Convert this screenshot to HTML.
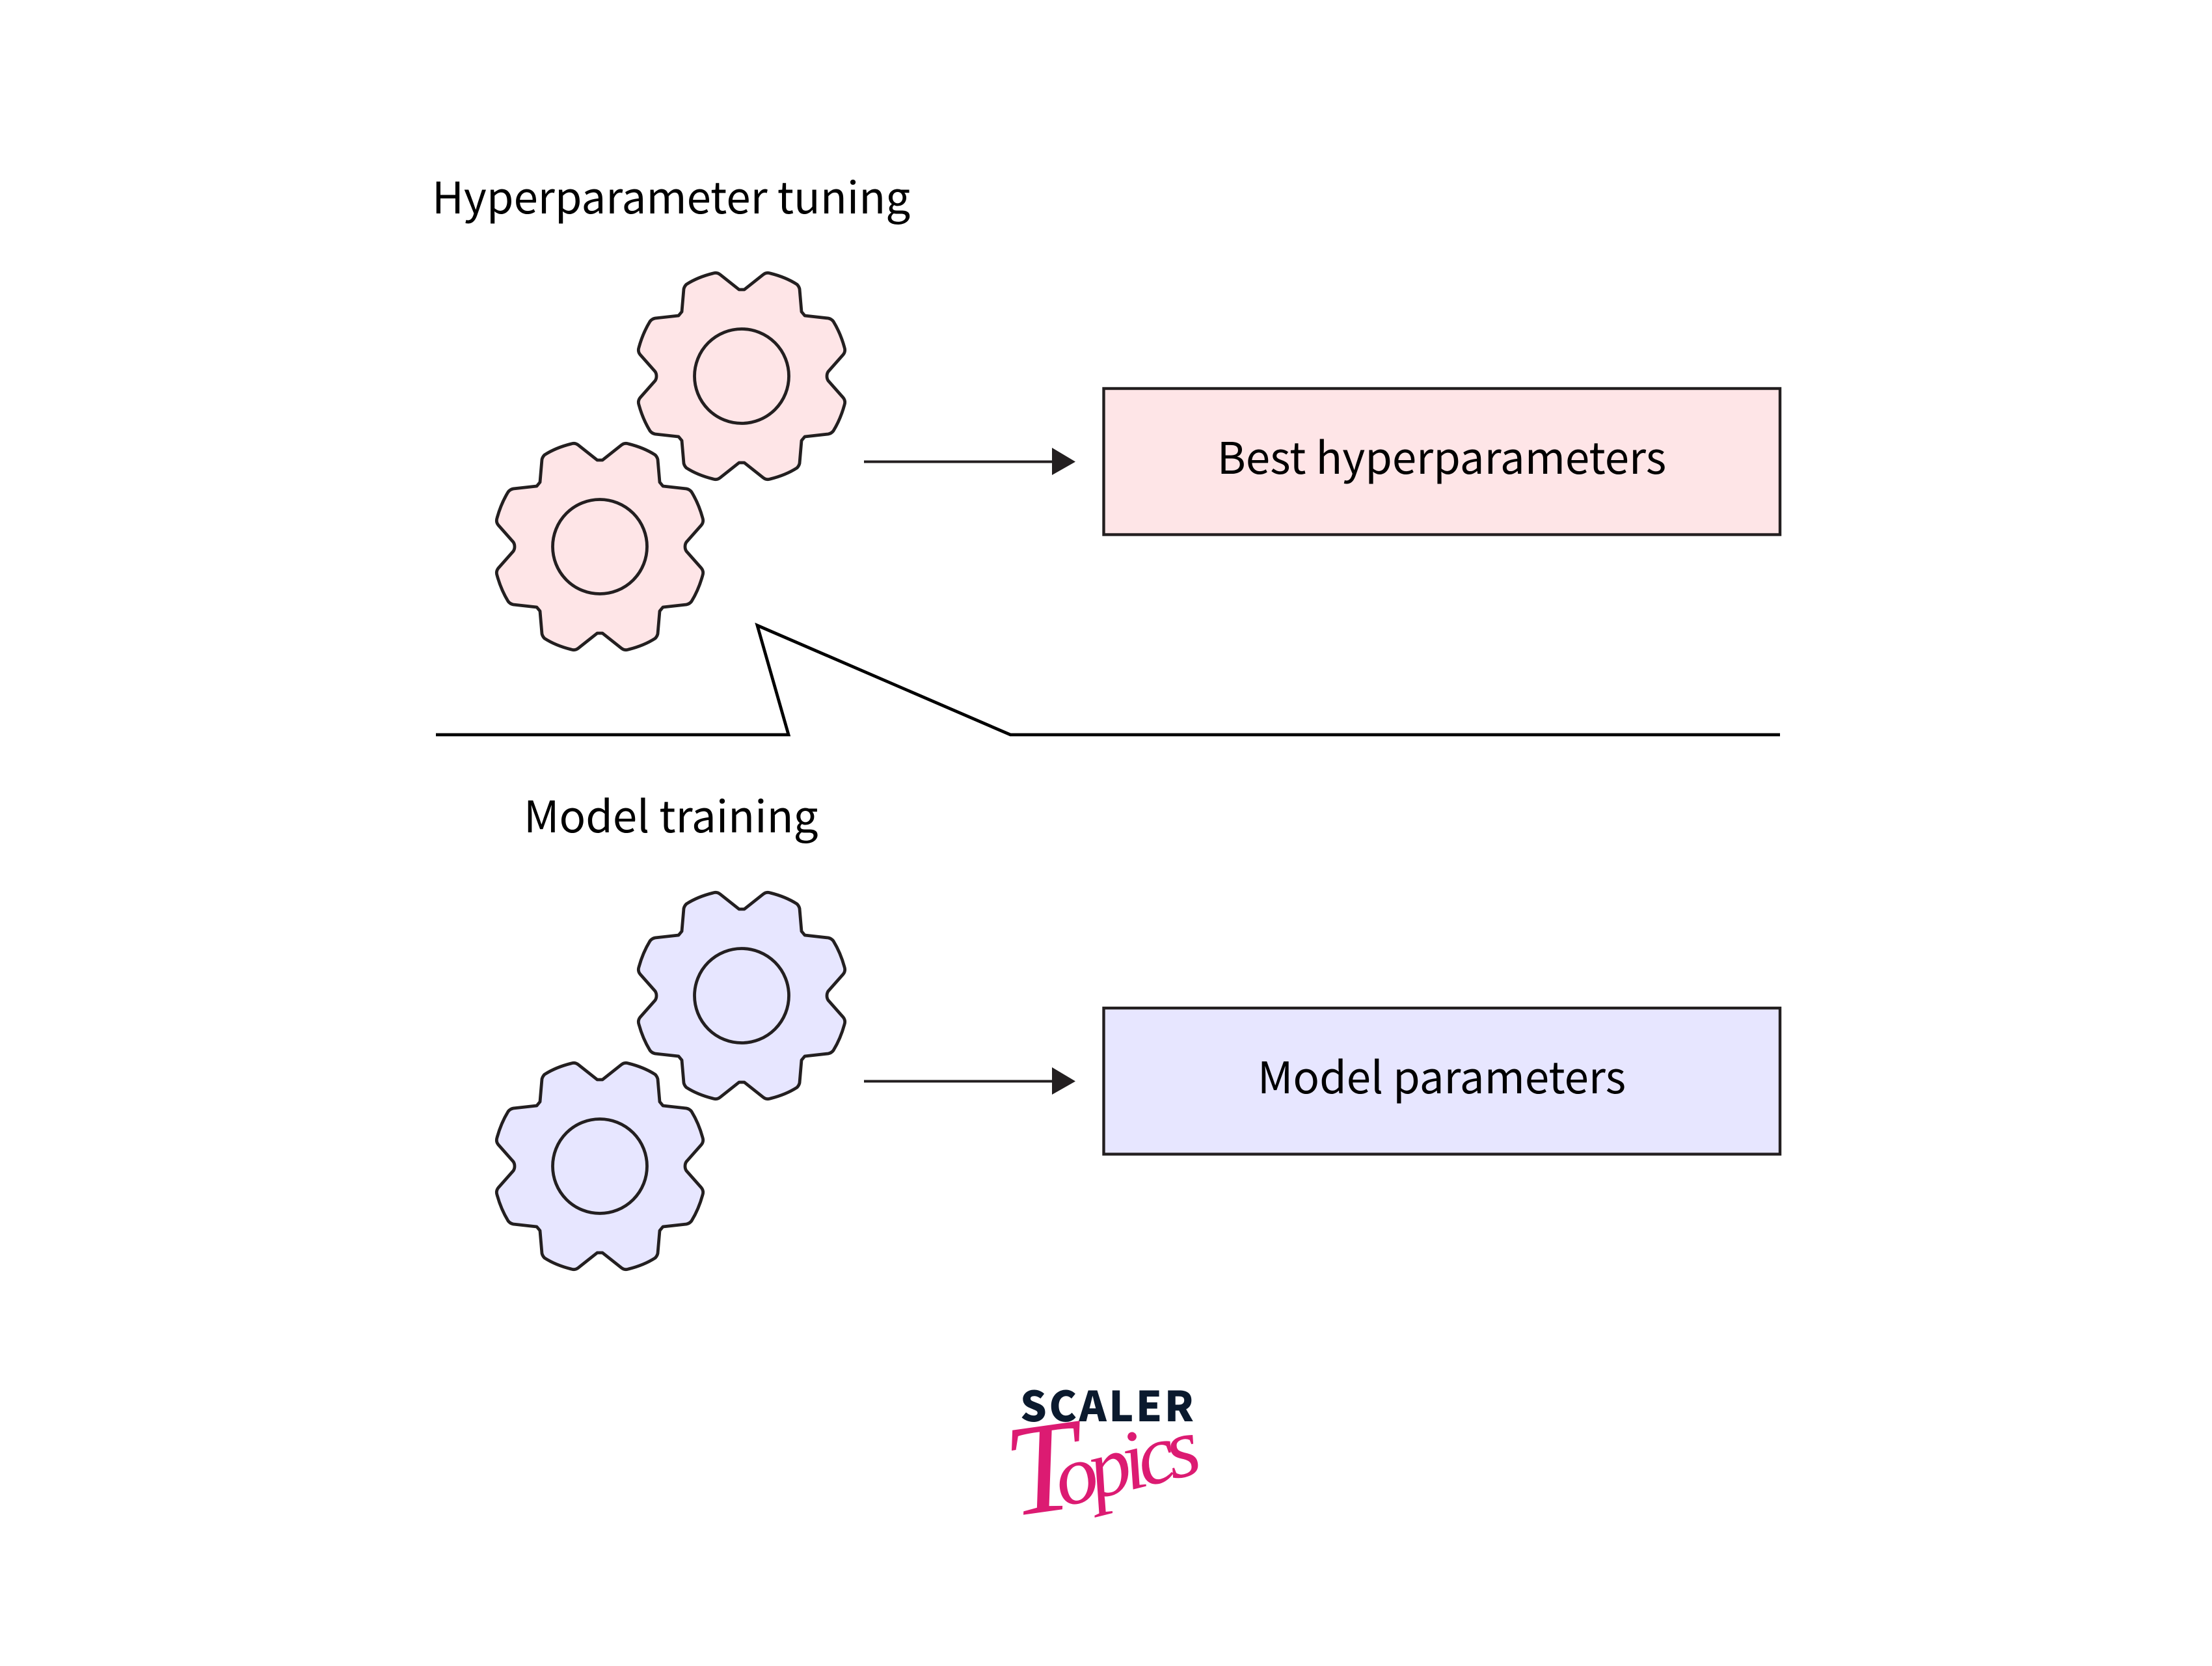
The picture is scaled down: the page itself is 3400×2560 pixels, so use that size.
<!DOCTYPE html>
<html>
<head>
<meta charset="utf-8">
<style>
html,body{margin:0;padding:0;background:#fff;width:3400px;height:2560px;overflow:hidden}
svg{display:block}
.t{font-family:"Noto Sans CJK JP","Liberation Sans",sans-serif;font-size:67.2px;fill:#000}
</style>
</head>
<body>
<svg width="3400" height="2560" viewBox="0 0 3400 2560" xmlns="http://www.w3.org/2000/svg">
<defs>
<g id="gear">
<path stroke="#231f20" stroke-width="4.8" stroke-linejoin="round" d="M-4,-133 L4,-133 L33,-156 Q38,-160 44,-158 Q68,-152 85,-141 Q88,-138 89,-134 L92,-99 L97,-93 L133,-89 Q138,-88 141,-84 Q152,-66 158,-44 Q160,-38 156,-33 L133,-7 Q131,-4 131,0 Q131,4 133,7 L156,33 Q160,38 158,44 Q152,66 141,84 Q138,88 133,89 L97,93 L92,99 L89,134 Q88,138 85,141 Q68,152 44,158 Q38,160 33,156 L4,133 L-4,133 L-33,156 Q-38,160 -44,158 Q-68,152 -85,141 Q-88,138 -89,134 L-92,99 L-97,93 L-133,89 Q-138,88 -141,84 Q-152,66 -158,44 Q-160,38 -156,33 L-133,7 Q-131,4 -131,0 Q-131,-4 -133,-7 L-156,-33 Q-160,-38 -158,-44 Q-152,-66 -141,-84 Q-138,-88 -133,-89 L-97,-93 L-92,-99 L-89,-134 Q-88,-138 -85,-141 Q-68,-152 -44,-158 Q-38,-160 -33,-156 Z"/>
<circle r="72.5" fill="none" stroke="#231f20" stroke-width="4.8"/>
</g>
</defs>

<text class="t" x="664" y="328">Hyperparameter tuning</text>
<use href="#gear" x="1140" y="578" fill="#fee5e7"/>
<use href="#gear" x="922" y="840" fill="#fee5e7"/>
<line x1="1328" y1="709.5" x2="1620" y2="709.5" stroke="#231f20" stroke-width="4"/>
<polygon points="1617,688 1653,709.5 1617,730" fill="#231f20"/>
<rect x="1696.5" y="597" width="1039.5" height="224.5" fill="#fee5e7" stroke="#231f20" stroke-width="4.4"/>
<text class="t" x="2216" y="728" text-anchor="middle">Best hyperparameters</text>

<polyline points="670,1129 1212,1129 1164,961 1553,1129 2736,1129" fill="none" stroke="#000" stroke-width="4.8" stroke-miterlimit="10"/>

<text class="t" x="805" y="1279">Model training</text>
<use href="#gear" x="1140" y="1530" fill="#e7e6ff"/>
<use href="#gear" x="922" y="1792" fill="#e7e6ff"/>
<line x1="1328" y1="1661.5" x2="1620" y2="1661.5" stroke="#231f20" stroke-width="4"/>
<polygon points="1617,1640 1653,1661.5 1617,1682" fill="#231f20"/>
<rect x="1696.5" y="1549" width="1039.5" height="224.5" fill="#e7e6ff" stroke="#231f20" stroke-width="4.4"/>
<text class="t" x="2216" y="1680" text-anchor="middle">Model parameters</text>

<text x="1568" y="2184" font-family="'Noto Sans CJK JP','Liberation Sans',sans-serif" font-weight="900" font-size="64" letter-spacing="9" fill="#0b1a2e" textLength="276">SCALER</text>
<g fill="#dc1b72" font-family="'Liberation Serif',serif" font-style="italic">
<text transform="translate(1556,2330) rotate(-8)" font-size="200">T</text>
<text transform="translate(1632,2316) rotate(-14)" font-size="130" textLength="226">opics</text>
</g>
</svg>
</body>
</html>
